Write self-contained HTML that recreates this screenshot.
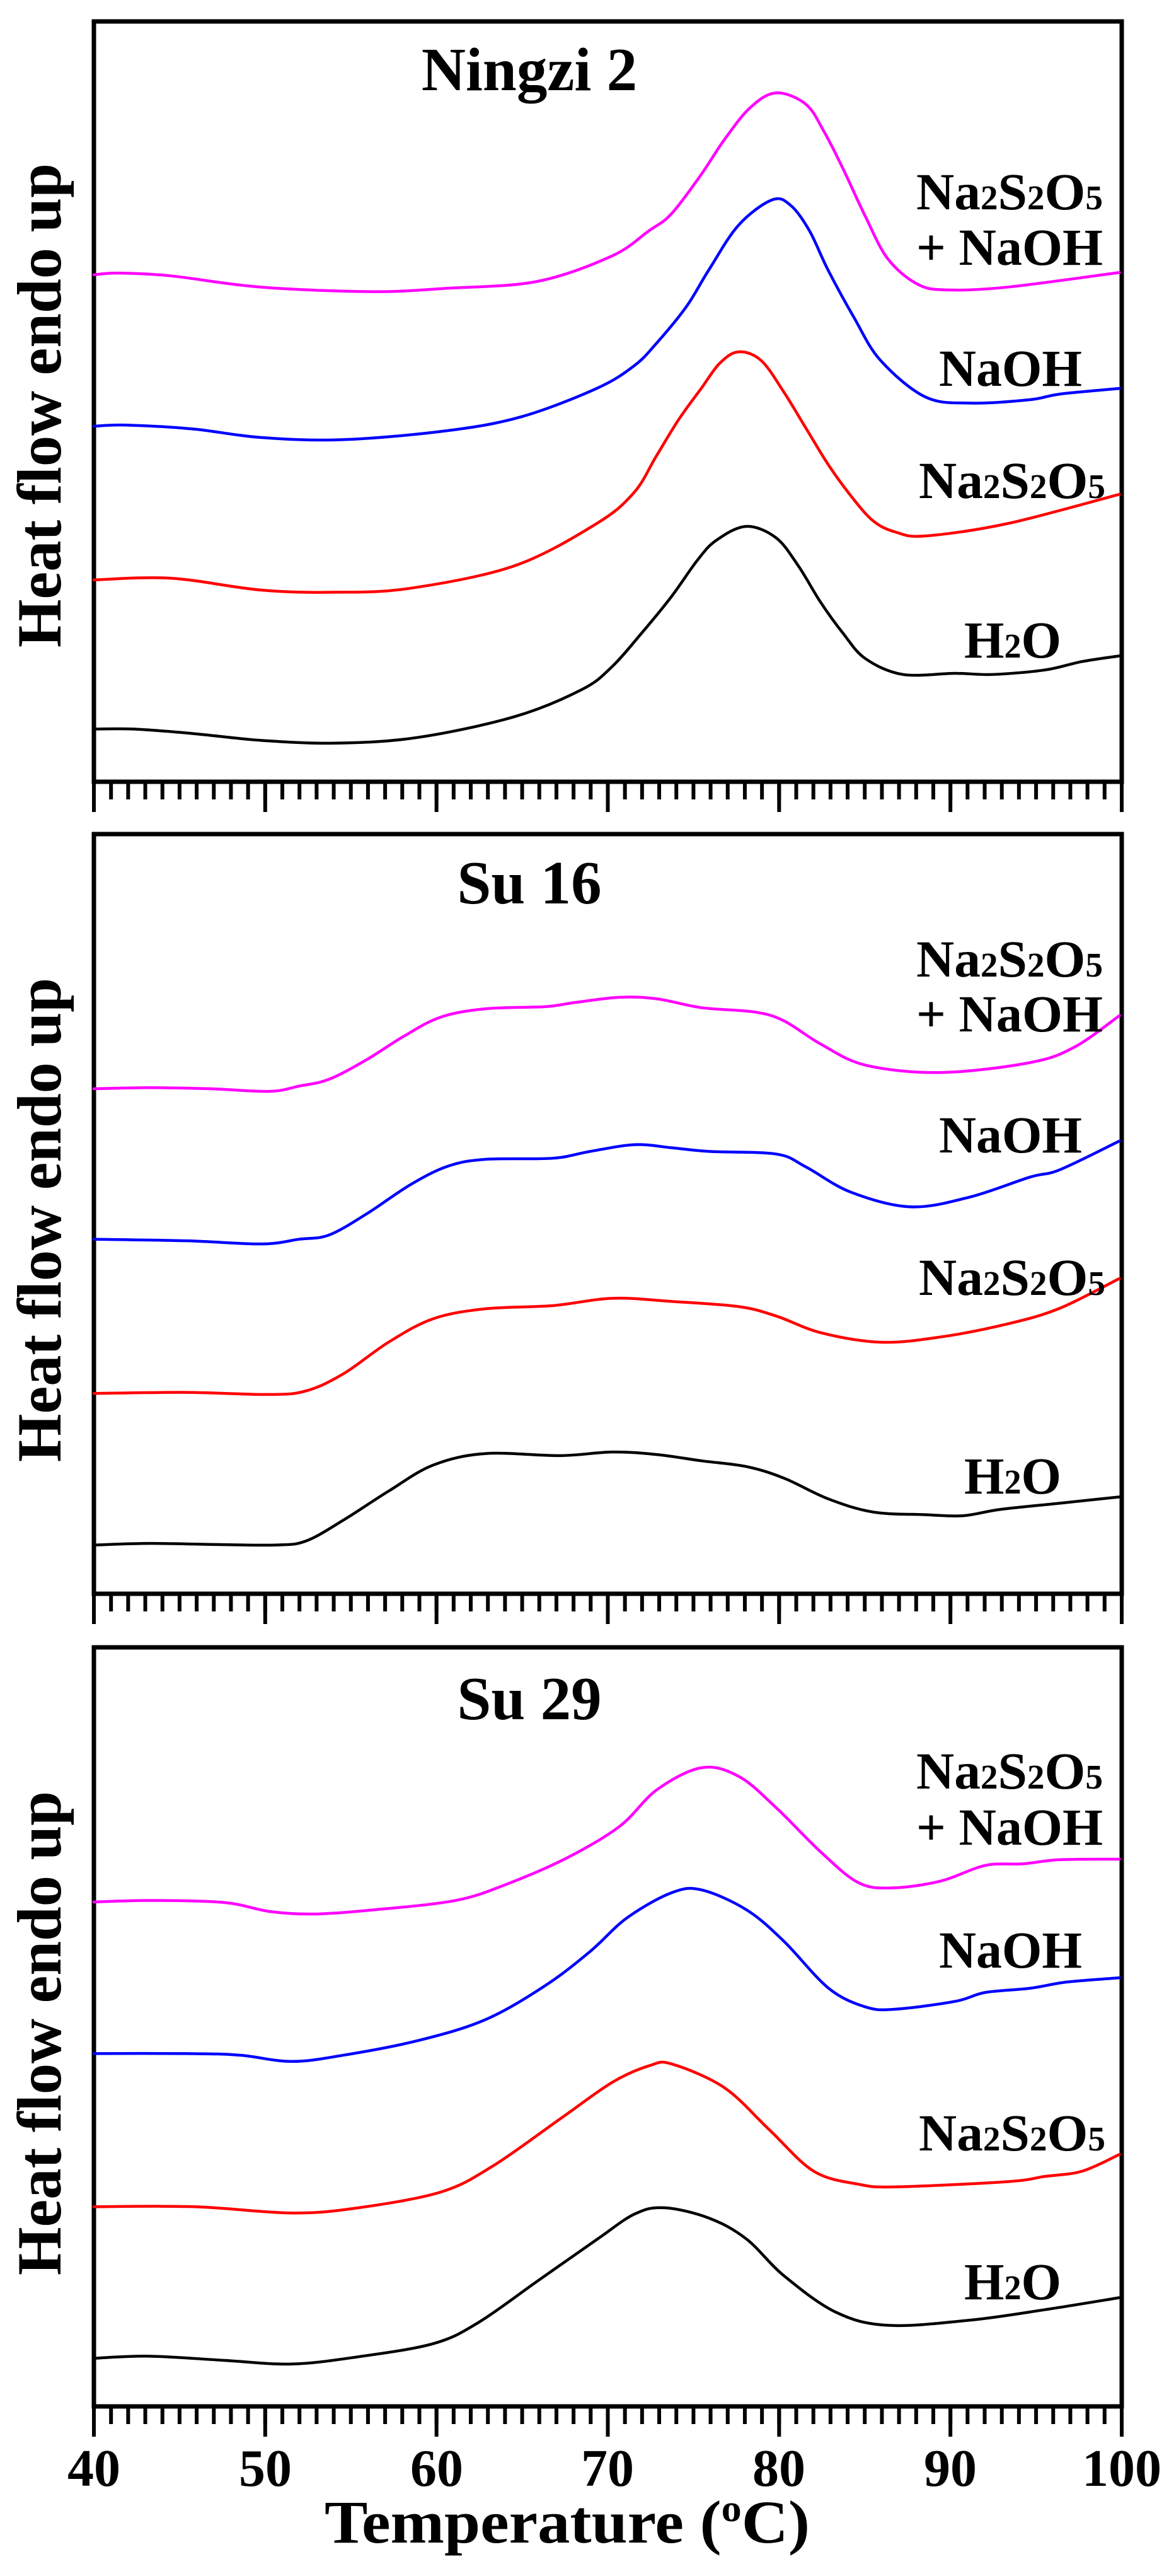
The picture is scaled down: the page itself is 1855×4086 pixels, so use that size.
<!DOCTYPE html>
<html><head><meta charset="utf-8"><style>
html,body{margin:0;padding:0;background:#fff;}
svg{display:block;}
text{font-family:"Liberation Serif",serif;font-weight:bold;fill:#000;}
</style></head><body>
<svg id="fig" width="1855" height="4086" viewBox="0 0 1855 4086" xmlns="http://www.w3.org/2000/svg">
<defs>
<g id="ticks">
<line x1="146" y1="14" x2="1783" y2="14" stroke="#000" stroke-width="28" stroke-dasharray="6 21.183"/>
<line x1="146" y1="24" x2="1783" y2="24" stroke="#000" stroke-width="48" stroke-dasharray="6 265.83"/>
</g>
</defs>
<g fill="none" stroke="#000" stroke-width="7">
<rect x="149" y="34" width="1631" height="1206"/>
<rect x="149" y="1323" width="1631" height="1205"/>
<rect x="149" y="2613" width="1631" height="1204"/>
</g>
<use href="#ticks" transform="translate(0,1240)"/>
<use href="#ticks" transform="translate(0,2528)"/>
<use href="#ticks" transform="translate(0,3817)"/>

<g fill="none" stroke-width="4.5" stroke-linejoin="round" stroke-linecap="round">
<g transform="matrix(1.1853,0,0,0.893,-1.53,0)">
<polyline vector-effect="non-scaling-stroke" stroke="#ff00ff" points="127,488 160,485 230,490 350,510 500,518 600,512 720,500 820,455 870,410 900,380 940,310 970,250 1005,192 1040,165 1080,185 1105,235 1130,300 1160,385 1190,460 1230,505 1270,515 1350,510 1500,484"/>
<polyline vector-effect="non-scaling-stroke" stroke="#0000ff" points="127,757 170,755 260,762 350,777 460,781 600,765 700,740 800,690 850,650 880,610 920,545 950,480 990,400 1035,355 1060,365 1085,410 1110,480 1145,565 1180,640 1240,705 1300,716 1380,710 1420,700 1500,690"/>
<polyline vector-effect="non-scaling-stroke" stroke="#ff0000" points="127,1030 230,1027 350,1048 450,1052 550,1045 690,1005 800,930 850,875 880,810 910,745 940,690 965,645 990,625 1020,640 1050,695 1080,760 1110,825 1140,880 1170,925 1200,945 1240,952 1350,930 1500,878"/>
<polyline vector-effect="non-scaling-stroke" stroke="#000000" points="127,1295 180,1295 260,1303 350,1315 450,1320 560,1310 690,1273 780,1225 820,1185 860,1125 900,1060 935,995 960,960 1000,935 1040,955 1070,1005 1100,1070 1130,1125 1160,1170 1210,1198 1280,1196 1330,1198 1400,1190 1450,1175 1500,1165"/>
</g>
<g transform="matrix(1.1836,0,0,0.829,1.05,1300)">
<polyline vector-effect="non-scaling-stroke" stroke="#ff00ff" points="125,515 200,513 280,515 360,520 400,510 440,497 490,460 540,415 590,378 650,362 730,358 770,350 830,340 880,343 940,360 1010,368 1050,385 1100,430 1160,470 1260,484 1380,465 1440,435 1500,375"/>
<polyline vector-effect="non-scaling-stroke" stroke="#0000ff" points="125,803 250,806 350,812 400,803 440,795 490,755 550,698 600,663 650,650 740,648 790,635 850,622 900,628 950,635 1040,640 1080,665 1140,713 1220,741 1300,722 1380,684 1420,670 1500,615"/>
<polyline vector-effect="non-scaling-stroke" stroke="#ff0000" points="125,1098 250,1096 360,1100 410,1093 460,1060 520,1000 580,955 650,936 740,930 820,916 900,922 990,932 1040,950 1100,982 1180,1000 1260,990 1350,965 1420,935 1500,878"/>
<polyline vector-effect="non-scaling-stroke" stroke="#000000" points="125,1388 200,1385 290,1387 370,1388 410,1380 460,1340 520,1285 580,1235 650,1213 750,1217 820,1210 880,1215 940,1227 1000,1238 1050,1260 1110,1300 1170,1325 1240,1330 1290,1332 1340,1320 1420,1308 1500,1296"/>
</g>
<g transform="matrix(1.1836,0,0,0.829,1.05,2590)">
<polyline vector-effect="non-scaling-stroke" stroke="#ff00ff" points="125,515 200,512 300,516 360,533 420,538 500,530 610,512 680,480 760,430 830,370 880,300 940,258 990,275 1040,335 1100,420 1150,478 1195,488 1260,475 1320,445 1370,442 1420,434 1500,433"/>
<polyline vector-effect="non-scaling-stroke" stroke="#0000ff" points="125,805 250,805 320,808 390,820 460,808 560,780 650,740 730,675 790,610 840,545 900,497 940,492 1000,530 1050,590 1110,680 1160,716 1200,720 1280,705 1320,688 1380,680 1430,668 1500,660"/>
<polyline vector-effect="non-scaling-stroke" stroke="#ff0000" points="125,1098 260,1098 390,1110 480,1100 590,1070 660,1020 750,930 820,860 870,828 900,825 970,870 1030,950 1090,1030 1150,1055 1200,1060 1350,1050 1400,1040 1450,1030 1500,998"/>
<polyline vector-effect="non-scaling-stroke" stroke="#000000" points="125,1388 200,1384 300,1392 390,1399 480,1385 580,1360 640,1320 720,1240 800,1160 850,1112 890,1100 950,1120 1000,1160 1050,1230 1120,1300 1190,1325 1300,1315 1400,1295 1500,1272"/>
</g>
</g>

<text x="840" y="143" font-size="97" text-anchor="middle">Ningzi 2</text>
<text x="840" y="1433" font-size="97" text-anchor="middle">Su 16</text>
<text x="840" y="2727" font-size="97" text-anchor="middle">Su 29</text>

<text transform="translate(96,643) rotate(-90)" font-size="100" text-anchor="middle" textLength="768" lengthAdjust="spacingAndGlyphs">Heat flow endo up</text>
<text transform="translate(96,1935) rotate(-90)" font-size="100" text-anchor="middle" textLength="768" lengthAdjust="spacingAndGlyphs">Heat flow endo up</text>
<text transform="translate(96,3225) rotate(-90)" font-size="100" text-anchor="middle" textLength="768" lengthAdjust="spacingAndGlyphs">Heat flow endo up</text>

<g font-size="83">
<text x="1454" y="332" textLength="296" lengthAdjust="spacingAndGlyphs">Na<tspan font-size="55">2</tspan>S<tspan font-size="55">2</tspan>O<tspan font-size="55">5</tspan></text>
<text x="1454" y="420" textLength="296" lengthAdjust="spacingAndGlyphs">+ NaOH</text>
<text x="1490" y="612" textLength="227" lengthAdjust="spacingAndGlyphs">NaOH</text>
<text x="1458" y="790" textLength="296" lengthAdjust="spacingAndGlyphs">Na<tspan font-size="55">2</tspan>S<tspan font-size="55">2</tspan>O<tspan font-size="55">5</tspan></text>
<text x="1530" y="1043" textLength="154" lengthAdjust="spacingAndGlyphs">H<tspan font-size="55">2</tspan>O</text>

<text x="1454" y="1549" textLength="296" lengthAdjust="spacingAndGlyphs">Na<tspan font-size="55">2</tspan>S<tspan font-size="55">2</tspan>O<tspan font-size="55">5</tspan></text>
<text x="1454" y="1636" textLength="296" lengthAdjust="spacingAndGlyphs">+ NaOH</text>
<text x="1490" y="1828" textLength="227" lengthAdjust="spacingAndGlyphs">NaOH</text>
<text x="1458" y="2054" textLength="296" lengthAdjust="spacingAndGlyphs">Na<tspan font-size="55">2</tspan>S<tspan font-size="55">2</tspan>O<tspan font-size="55">5</tspan></text>
<text x="1530" y="2369" textLength="154" lengthAdjust="spacingAndGlyphs">H<tspan font-size="55">2</tspan>O</text>

<text x="1454" y="2837" textLength="296" lengthAdjust="spacingAndGlyphs">Na<tspan font-size="55">2</tspan>S<tspan font-size="55">2</tspan>O<tspan font-size="55">5</tspan></text>
<text x="1454" y="2926" textLength="296" lengthAdjust="spacingAndGlyphs">+ NaOH</text>
<text x="1490" y="3121" textLength="227" lengthAdjust="spacingAndGlyphs">NaOH</text>
<text x="1458" y="3411" textLength="296" lengthAdjust="spacingAndGlyphs">Na<tspan font-size="55">2</tspan>S<tspan font-size="55">2</tspan>O<tspan font-size="55">5</tspan></text>
<text x="1530" y="3647" textLength="154" lengthAdjust="spacingAndGlyphs">H<tspan font-size="55">2</tspan>O</text>
</g>

<g font-size="84" text-anchor="middle">
<text x="149" y="3943">40</text>
<text x="421" y="3943">50</text>
<text x="693" y="3943">60</text>
<text x="964" y="3943">70</text>
<text x="1236" y="3943">80</text>
<text x="1508" y="3943">90</text>
<text x="1780" y="3943">100</text>
</g>
<text x="900" y="4033" font-size="96" text-anchor="middle" textLength="770" lengthAdjust="spacingAndGlyphs">Temperature (<tspan font-size="60" dy="-34">o</tspan><tspan dy="34">C)</tspan></text>
</svg>
<script>
(function(){
  var pls=document.querySelectorAll('#fig polyline');
  for(var k=0;k<pls.length;k++){
    var pl=pls[k];
    var pts=pl.getAttribute('points').trim().split(/\s+/).map(function(s){var a=s.split(',');return [+a[0],+a[1]];});
    var d='M'+pts[0][0]+','+pts[0][1];
    for(var i=0;i<pts.length-1;i++){
      var p0=pts[i-1]||pts[i],p1=pts[i],p2=pts[i+1],p3=pts[i+2]||p2;
      var c1x=p1[0]+(p2[0]-p0[0])/6,c1y=p1[1]+(p2[1]-p0[1])/6;
      var c2x=p2[0]-(p3[0]-p1[0])/6,c2y=p2[1]-(p3[1]-p1[1])/6;
      d+=' C'+c1x.toFixed(2)+','+c1y.toFixed(2)+' '+c2x.toFixed(2)+','+c2y.toFixed(2)+' '+p2[0]+','+p2[1];
    }
    var p=document.createElementNS('http://www.w3.org/2000/svg','path');
    p.setAttribute('d',d);
    p.setAttribute('stroke',pl.getAttribute('stroke'));
    p.setAttribute('vector-effect','non-scaling-stroke');
    pl.parentNode.replaceChild(p,pl);
  }
})();
</script>
</body></html>
